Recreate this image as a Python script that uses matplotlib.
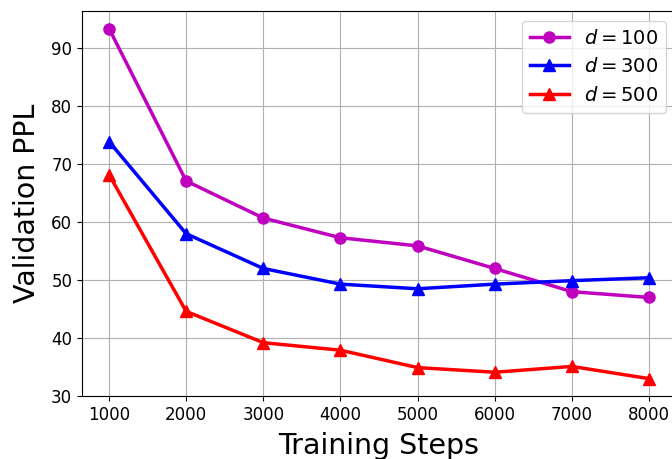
import numpy as np
from matplotlib import pyplot as plt

steps = [1000, 2000, 3000, 4000, 5000, 6000, 7000, 8000]
ppl_d100 = [93.4, 67.1, 60.7, 57.3, 55.9, 52.0, 48.0, 47.0]
ppl_d300 = [73.9, 58.0, 52.0, 49.3, 48.5, 49.3, 49.9, 50.4]
ppl_d500 = [68.2, 44.6, 39.2, 37.9, 34.9, 34.1, 35.1, 33.0]

fig = plt.figure(figsize=(6.72, 4.59), dpi=100)
ax = fig.add_axes([82 / 672, 63 / 459, 594 / 672, 385 / 459])

ax.plot(steps, ppl_d100, color='m', marker='o', markersize=8, linewidth=2.5, label='$d=100$')
ax.plot(steps, ppl_d300, color='b', marker='^', markersize=8, linewidth=2.5, label='$d=300$')
ax.plot(steps, ppl_d500, color='r', marker='^', markersize=8, linewidth=2.5, label='$d=500$')

ax.set_ylim(bottom=30)
ax.set_xticks(steps)
ax.tick_params(labelsize=12)
ax.grid(True)
ax.set_xlabel('Training Steps', fontsize=20.5, labelpad=6)
ax.set_ylabel('Validation PPL', fontsize=20.5, labelpad=7)
ax.legend(fontsize=14, loc='upper right')

plt.savefig('out.png', dpi=100)
